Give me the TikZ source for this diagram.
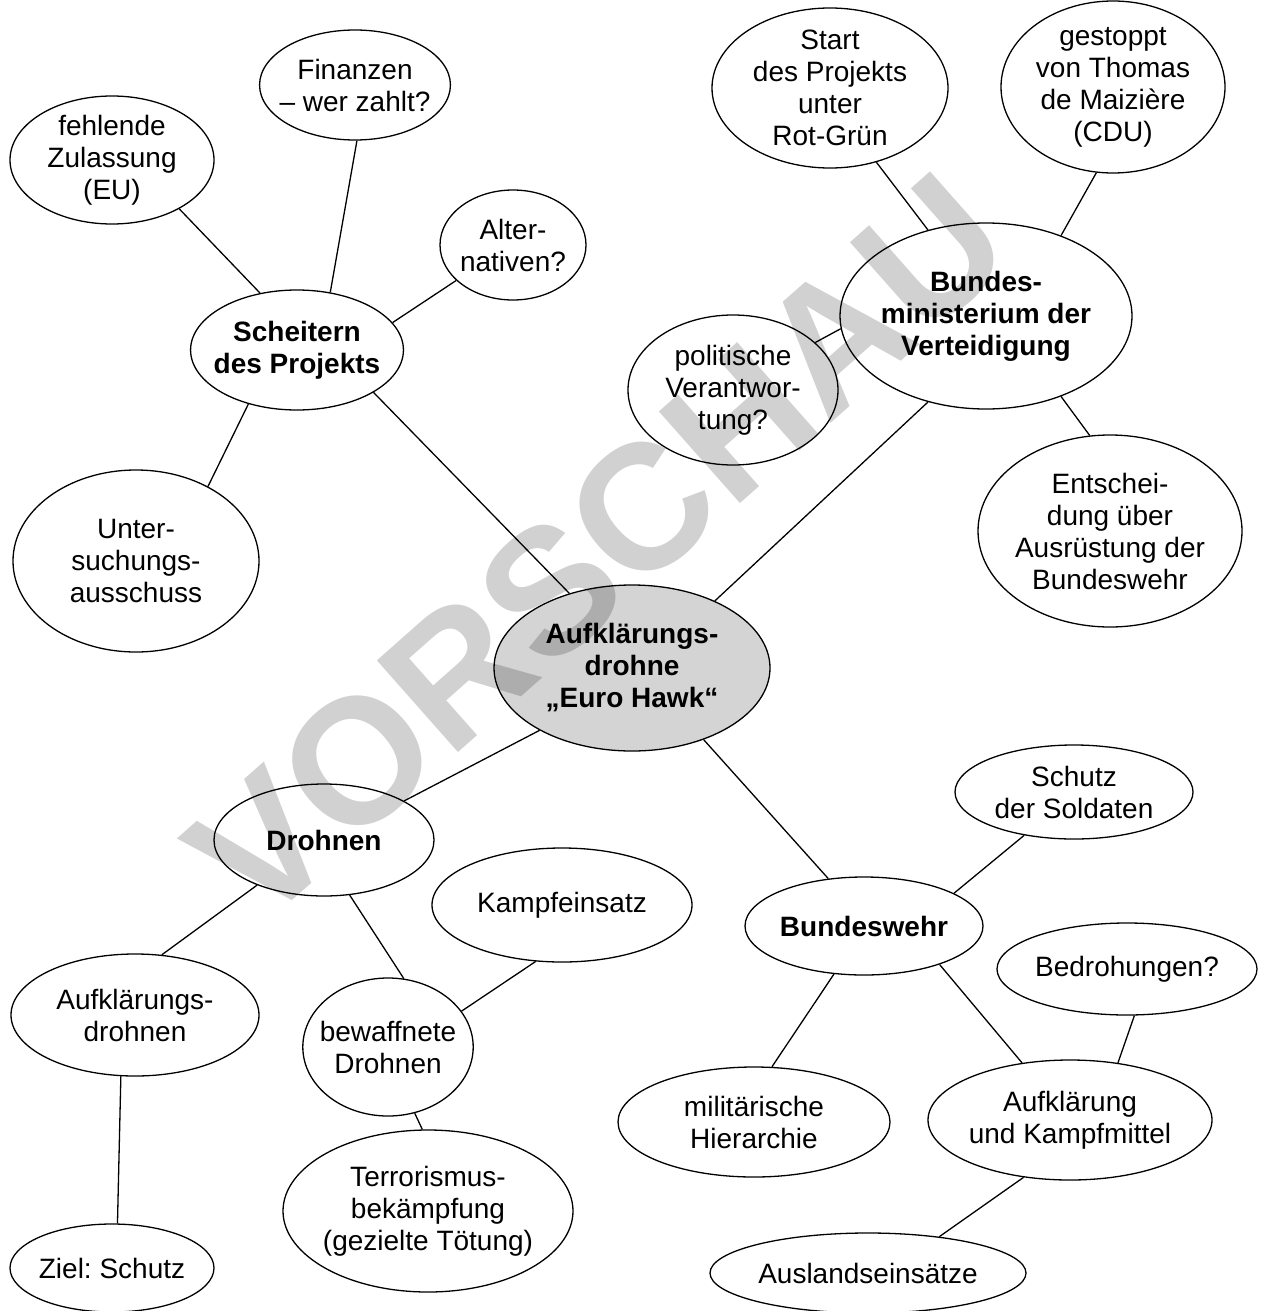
\documentclass[tikz,border=0pt]{standalone}
\usepackage{fontspec}
\setmainfont{Liberation Sans}
\usetikzlibrary{shapes.geometric}
\definecolor{hawkgray}{gray}{0.83}
\begin{document}
\begin{tikzpicture}[x=0.5pt,y=-0.5pt,
	bub/.style 2 args={ellipse,draw,line width=0.65pt,inner sep=-4pt,align=center,
		minimum width=#1pt,minimum height=#2pt,font=\fontsize{14}{16}\selectfont},
	hub/.style={font=\fontsize{14}{16}\selectfont\bfseries},
	link/.style={line width=0.65pt}]
	\useasboundingbox(0,0)rectangle(1261,1311);
	\node[bub={92}{55}](fin)at(355,85){Finanzen\\– wer zahlt?};
	\node[bub={102}{64}](zul)at(112,160){fehlende\\Zulassung\\(EU)};
	\node[bub={73}{55}](alt)at(513,245){Alter-\\nativen?};
	\node[bub={103}{60},hub](sch)at(297,350){Scheitern\\des Projekts};
	\node[bub={123}{91}](ua)at(136,561){Unter-\\suchungs-\\ausschuss};
	\node[bub={118}{80}](start)at(830,88){Start\\des Projekts\\unter\\Rot-Grün};
	\node[bub={112}{86}](stop)at(1113,87){gestoppt\\von Thomas\\de Maizière\\(CDU)};
	\node[bub={146}{93},hub](bmvg)at(986,316){Bundes-\\ministerium der\\Verteidigung};
	\node[bub={105}{75}](pol)at(733,390){politische\\Verantwor-\\tung?};
	\node[bub={132}{96}](ent)at(1110,531){Entschei-\\dung über\\Ausrüstung der\\Bundeswehr};
	\node[bub={138}{83},hub,fill=hawkgray](hawk)at(632,668){Aufklärungs-\\drohne\\„Euro Hawk“};
	\node[bub={110}{56},hub](dro)at(324,840){Drohnen};
	\node[bub={130}{57}](kampf)at(562,905){Kampfeinsatz};
	\node[bub={124}{61}](aufd)at(135,1015){Aufklärungs-\\drohnen};
	\node[bub={85}{69}](bew)at(388,1047){bewaffnete\\Drohnen};
	\node[bub={145}{81}](terr)at(428,1211){Terrorismus-\\bekämpfung\\(gezielte Tötung)};
	\node[bub={102}{44}](ziel)at(112,1268){Ziel:\ Schutz};
	\node[bub={119}{47}](sold)at(1074,792){Schutz\\der Soldaten};
	\node[bub={119}{49},hub](bw)at(864,926){Bundeswehr};
	\node[bub={130}{46}](bedr)at(1127,969){Bedrohungen?};
	\node[bub={136}{55}](mil)at(754,1122){militärische\\Hierarchie};
	\node[bub={142}{60}](ak)at(1070,1120){Aufklärung\\und Kampfmittel};
	\node[bub={158}{40}](ausl)at(868,1273){Auslandseinsätze};
	\draw[link](zul.-36)--(sch.123);
	\draw[link](fin.-88)--(sch.60);
	\draw[link](alt.-148)--(sch.16);
	\draw[link](sch.-132)--(ua.46);
	\draw[link](sch.-29)--(hawk.130);
	\draw[link](start.-58)--(bmvg.124);
	\draw[link](stop.-101)--(bmvg.47);
	\draw[link](pol.30)--(bmvg.-175);
	\draw[link](bmvg.-124)--(hawk.39);
	\draw[link](bmvg.-47)--(ent.102);
	\draw[link](hawk.-146)--(dro.26);
	\draw[link](hawk.-45)--(bw.127);
	\draw[link](dro.-146)--(aufd.66);
	\draw[link](dro.-65)--(bew.77);
	\draw[link](kampf.-115)--(bew.26);
	\draw[link](aufd.-103)--(ziel.83);
	\draw[link](bew.-68)--(terr.94);
	\draw[link](sold.-139)--(bw.20);
	\draw[link](bw.-122)--(mil.72);
	\draw[link](bw.-27)--(ak.130);
	\draw[link](bedr.-81)--(ak.50);
	\draw[link](ak.-129)--(ausl.27);
	\node[rotate=41.5,text=black,text opacity=0.18,font=\fontsize{89}{89}\selectfont\bfseries](vorschau)at(598,548){VORSCHAU};
\end{tikzpicture}
\end{document}
